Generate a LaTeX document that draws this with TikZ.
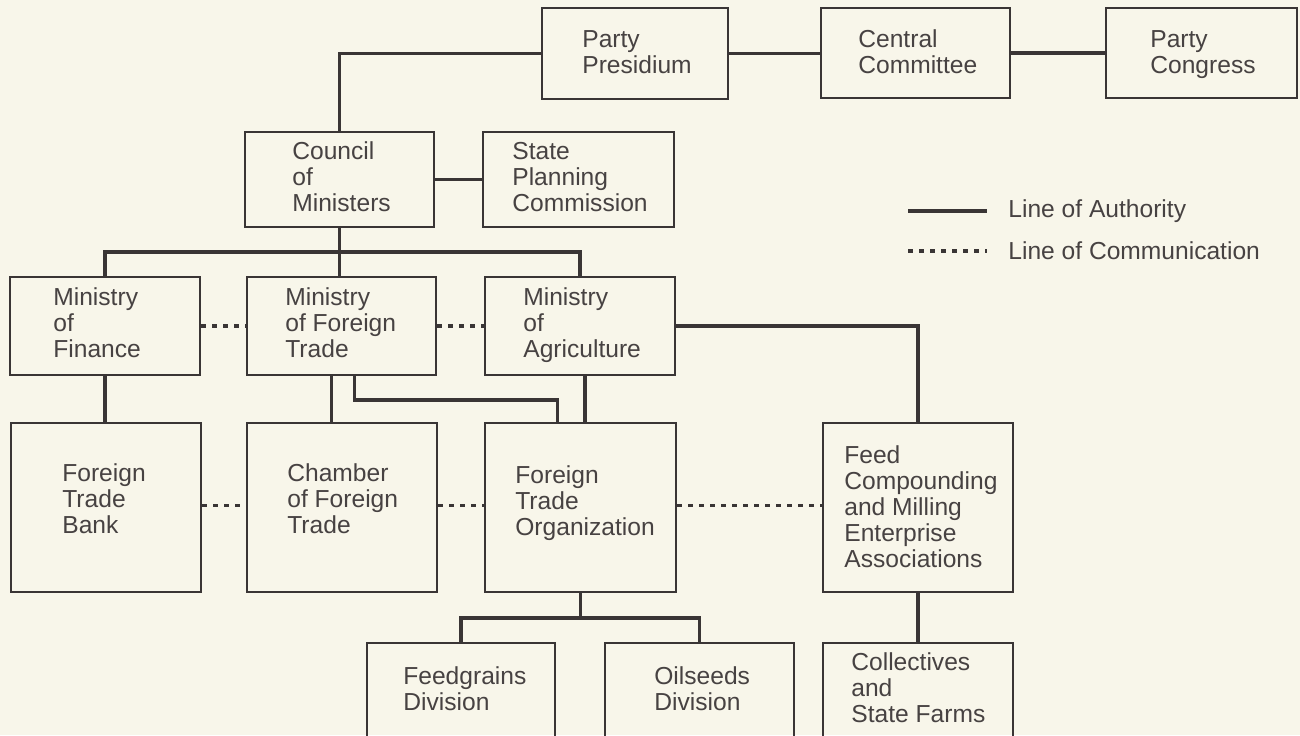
\documentclass[tikz,border=0pt]{standalone}
\usepackage{fontspec}
\setmainfont{Liberation Sans}
\usetikzlibrary{fit,calc}
\definecolor{paper}{HTML}{F8F6EA}
\definecolor{ink}{HTML}{3A3535}
\definecolor{type}{HTML}{474242}
% one line of a stacked label; \vtop keeps the first line on the baseline
\newcommand\rowtext[1]{\hbox{#1}}
\begin{document}
\begin{tikzpicture}[x=0.02cm,y=-0.02cm,
  box/.style={draw=ink, line width=1.3pt, inner sep=0pt, rectangle},
  txt/.style={anchor=base west, inner sep=0pt, text=type,
              font=\fontsize{14}{14.8}\selectfont},
  authority/.style={draw=ink, line width=1.9pt},
  comm/.style={draw=ink, line width=2.2pt, dash pattern=on 0.09cm off 0.13cm}]

\useasboundingbox (0,0) rectangle (1300,735);
\fill[paper] (0,0) rectangle (1300,735);
\clip (0,0) rectangle (1300,735);

% ---- party organs
\node[box, fit={(542,8) (728,99)}]   (pres) {};
\node[box, fit={(821,8) (1010,98)}]  (cc) {};
\node[box, fit={(1106,8) (1297,98)}] (pc) {};
\node[txt] (pres-t) at (582,47)  {\vtop{\rowtext{Party}\rowtext{Presidium}}};
\node[txt] (cc-t)   at (858,47)  {\vtop{\rowtext{Central}\rowtext{Committee}}};
\node[txt] (pc-t)   at (1150,47) {\vtop{\rowtext{Party}\rowtext{Congress}}};

% ---- government
\node[box, fit={(245,132) (434,227)}] (com) {};
\node[box, fit={(483,132) (674,227)}] (spc) {};
\node[txt] (com-t) at (292,159) {\vtop{\rowtext{Council}\rowtext{of}\rowtext{Ministers}}};
\node[txt] (spc-t) at (512,159) {\vtop{\rowtext{State}\rowtext{Planning}\rowtext{Commission}}};

% ---- ministries
\node[box, fit={(10,277) (200,375)}]  (mof) {};
\node[box, fit={(247,277) (436,375)}] (moft) {};
\node[box, fit={(485,277) (675,375)}] (moa) {};
\node[txt] (mof-t)  at (53,305)  {\vtop{\rowtext{Ministry}\rowtext{of}\rowtext{Finance}}};
\node[txt] (moft-t) at (285,305) {\vtop{\rowtext{Ministry}\rowtext{of Foreign}\rowtext{Trade}}};
\node[txt] (moa-t)  at (523,305) {\vtop{\rowtext{Ministry}\rowtext{of}\rowtext{Agriculture}}};

% ---- operating bodies
\node[box, fit={(11,423) (201,592)}]   (ftb) {};
\node[box, fit={(247,423) (437,592)}]  (cft) {};
\node[box, fit={(485,423) (676,592)}]  (fto) {};
\node[box, fit={(823,423) (1013,592)}] (fcm) {};
\node[txt] (ftb-t) at (62,481)  {\vtop{\rowtext{Foreign}\rowtext{Trade}\rowtext{Bank}}};
\node[txt] (cft-t) at (287,481) {\vtop{\rowtext{Chamber}\rowtext{of Foreign}\rowtext{Trade}}};
\node[txt] (fto-t) at (515,483) {\vtop{\rowtext{Foreign}\rowtext{Trade}\rowtext{Organization}}};
\node[txt] (fcm-t) at (844,463) {\vtop{\rowtext{Feed}\rowtext{Compounding}\rowtext{and Milling}\rowtext{Enterprise}\rowtext{Associations}}};

% ---- lowest level (runs off the lower edge)
\node[box, fit={(367,643) (555,760)}]  (fgd) {};
\node[box, fit={(605,643) (794,760)}]  (osd) {};
\node[box, fit={(823,643) (1013,760)}] (csf) {};
\node[txt] (fgd-t) at (403,684) {\vtop{\rowtext{Feedgrains}\rowtext{Division}}};
\node[txt] (osd-t) at (654,684) {\vtop{\rowtext{Oilseeds}\rowtext{Division}}};
\node[txt] (csf-t) at (851,670) {\vtop{\rowtext{Collectives}\rowtext{and}\rowtext{State Farms}}};

% ---- lines of authority
\draw[authority] (pres.west) -| (com.north);
\draw[authority] (pres.east) -- (pres.east -| cc.west);
\draw[authority] (cc.east) -- (cc.east -| pc.west);
\draw[authority] (com.east) -- (com.east -| spc.west);
\draw[authority] (com.south) -- (com.south |- moft.north);
\draw[authority] (mof.north) -- ++(0,-24) -| (moa.north);
\draw[authority] (mof.south) -- (mof.south |- ftb.north);
\coordinate (a1) at ($(moft.south)+(-10,0)$);
\draw[authority] (a1) -- (a1 |- cft.north);
\coordinate (a2) at ($(moft.south)+(13,0)$);
\coordinate (a3) at ($(fto.north)+(-23,0)$);
\draw[authority] (a2) |- ($(a3)+(0,-22)$) -- (a3);
\coordinate (a4) at ($(moa.south)+(5,0)$);
\draw[authority] (a4) -- (a4 |- fto.north);
\draw[authority] (moa.east) -| (fcm.north);
\draw[authority] (fcm.south) -- (csf.north);
\draw[authority] (fto.south) -- (fto.south |- 0,619);
\draw[authority] (fgd.north) -- ++(0,-24) -| (osd.north);

% ---- lines of communication
\draw[comm] (mof.east) -- (mof.east -| moft.west);
\draw[comm] (moft.east) -- (moft.east -| moa.west);
\draw[comm] ($(ftb.east)+(0,-2)$) -- ($(ftb.east -| cft.west)+(0,-2)$);
\draw[comm] ($(cft.east)+(0,-2)$) -- ($(cft.east -| fto.west)+(0,-2)$);
\draw[comm] ($(fto.east)+(0,-2)$) -- ($(fto.east -| fcm.west)+(0,-2)$);

% ---- key
\coordinate (k1) at (908,211);
\coordinate (k2) at (987,211);
\coordinate (k3) at (908,251);
\coordinate (k4) at (987,251);
\draw[authority, line width=2.3pt] (k1) -- (k2);
\draw[comm] (k3) -- (k4);
\node[txt] (k-auth) at (1008,217) {Line of Authority};
\node[txt] (k-comm) at (1008,259) {Line of Communication};
\end{tikzpicture}
\end{document}
